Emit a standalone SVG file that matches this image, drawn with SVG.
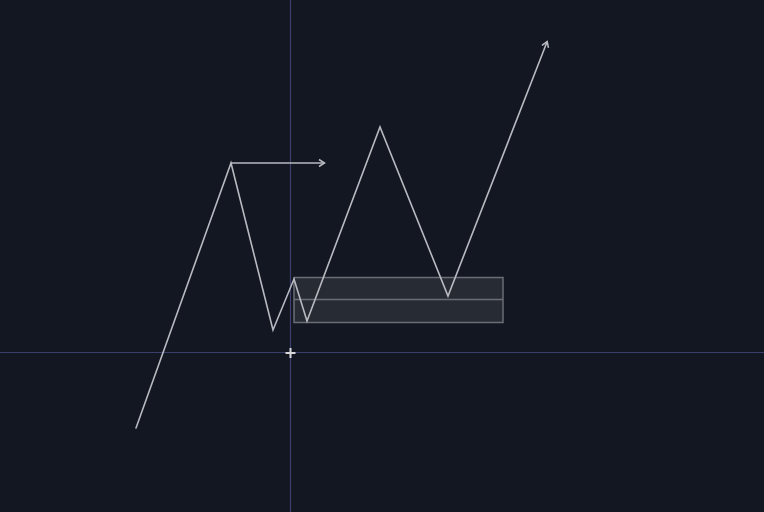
<svg xmlns="http://www.w3.org/2000/svg" width="764" height="512" viewBox="0 0 764 512">
<style>
.cross{stroke:#3b3f6b;stroke-width:1.2;fill:none}
.wave{stroke:#b8bac0;stroke-width:1.6;fill:none;stroke-linejoin:miter;stroke-linecap:round}
.zone{fill:#2a2d36;fill-opacity:0.9;stroke:#6a6d76;stroke-width:1.5}
</style>
<defs>
<marker id="ah" markerWidth="10" markerHeight="10" refX="8" refY="5" orient="auto" markerUnits="userSpaceOnUse">
<path d="M3,1.5 L8.5,5 L3,8.5" fill="none" stroke="#b8bac0" stroke-width="1.5"/>
</marker>
</defs>
<rect width="764" height="512" fill="#131722"/>
<g id="crosshair">
<line class="cross" x1="290.5" y1="0" x2="290.5" y2="512"/>
<line class="cross" x1="0" y1="352.5" x2="764" y2="352.5"/>
</g>
<g id="zone">
<rect class="zone" x="294" y="277.5" width="209" height="45"/>
<line x1="294" y1="299.5" x2="503" y2="299.5" stroke="#6a6d76" stroke-width="1.5"/>
</g>
<g id="connectors">
<polyline class="wave" points="136,428 231,163 273,330 294,279 307,321 380,127 448,296 547,42" marker-end="url(#ah)"/>
<line class="wave" x1="231" y1="163" x2="324" y2="163" marker-end="url(#ah)"/>
</g>
<g id="cursor" stroke="#d8d8dc" stroke-width="2">
<line x1="285.5" y1="353" x2="295.5" y2="353"/>
<line x1="290.5" y1="348" x2="290.5" y2="358"/>
</g>
</svg>
